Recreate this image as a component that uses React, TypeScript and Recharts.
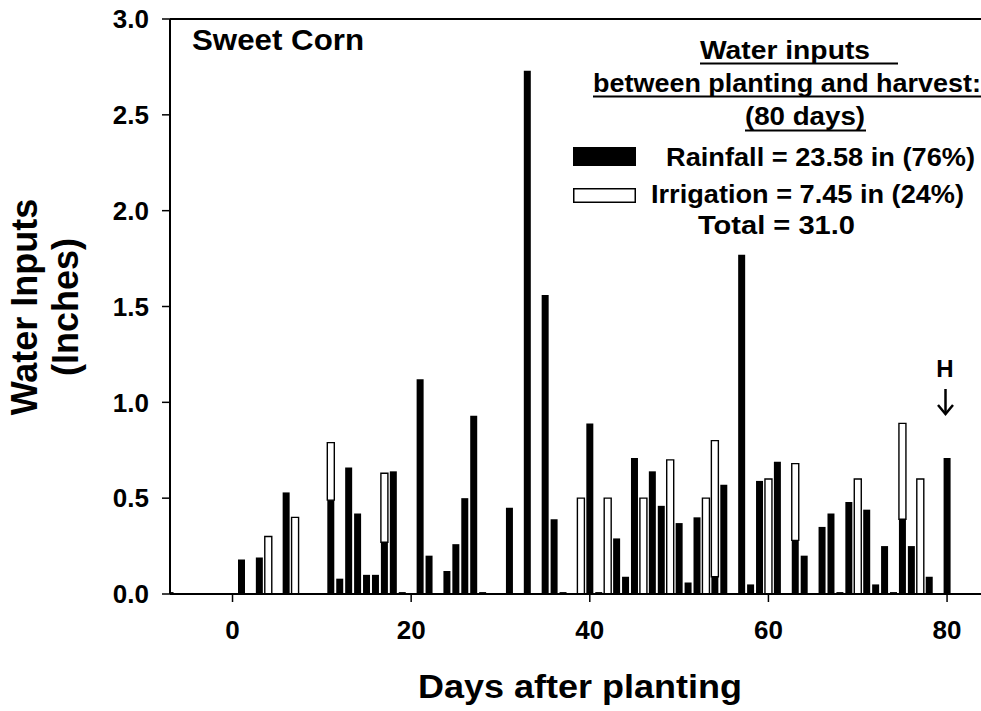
import { BarChart, Bar, XAxis, YAxis, ReferenceLine } from "recharts";

// days after planting that had any water input
const DAYS = [
  -7, 1, 3, 4, 6, 7, 11, 12, 13, 14, 15, 16, 17, 18, 19, 21, 22, 24, 25, 26, 27, 28,
  31, 33, 35, 36, 37, 39, 40, 41, 42, 43, 44, 45, 46, 47, 48, 49, 50, 51, 52, 53, 54,
  55, 57, 58, 59, 60, 61, 63, 64, 66, 67, 68, 69, 70, 71, 72, 73, 74, 75, 76, 77, 78, 80,
];
const RAINFALL = [
  0.01, 0.18, 0.19, 0, 0.53, 0, 0.49, 0.08, 0.66, 0.42, 0.1, 0.1, 0.27, 0.64, 0.01, 1.12, 0.2, 0.12, 0.26, 0.5, 0.93, 0.01,
  0.45, 2.73, 1.56, 0.39, 0.01, 0, 0.89, 0.01, 0, 0.29, 0.09, 0.71, 0, 0.64, 0.46, 0, 0.37, 0.06, 0.4, 0, 0.09,
  0.57, 1.77, 0.05, 0.59, 0, 0.69, 0.28, 0.2, 0.35, 0.42, 0.01, 0.48, 0, 0.44, 0.05, 0.25, 0.01, 0.39, 0.25, 0, 0.09, 0.71,
];
const IRRIGATION = [
  0, 0, 0, 0.3, 0, 0.4, 0.3, 0, 0, 0, 0, 0, 0.36, 0, 0, 0, 0, 0, 0, 0, 0, 0,
  0, 0, 0, 0, 0, 0.5, 0, 0, 0.5, 0, 0, 0, 0.5, 0, 0, 0.7, 0, 0, 0, 0.5, 0.71,
  0, 0, 0, 0, 0.6, 0, 0.4, 0, 0, 0, 0, 0, 0.6, 0, 0, 0, 0, 0.5, 0, 0.6, 0, 0,
];
const X_TICKS = [0, 20, 40, 60, 80];
const Y_TICKS = [0, 0.5, 1, 1.5, 2, 2.5, 3];

const data = DAYS.map((day, i) => ({ day, rain: RAINFALL[i], irrigation: IRRIGATION[i] }));

const FONT = '"Liberation Sans", Arial, Helvetica, sans-serif';
const tickStyle = { fill: "#000", fontSize: 26, fontWeight: 700, fontFamily: FONT };

export default function App() {
  return (
    <div style={{ position: "relative", width: 981, height: 711, background: "#fff", overflow: "hidden" }}>
      <style>{"body{margin:0;overflow:hidden}"}</style>
      <BarChart width={981} height={711} data={data} margin={{ top: 19, right: 0, bottom: 0, left: 0 }}>
        <XAxis
          type="number"
          dataKey="day"
          domain={[-7, 83.8]}
          ticks={X_TICKS}
          allowDataOverflow
          height={117}
          tickSize={8}
          tickMargin={19}
          tick={tickStyle}
          axisLine={{ stroke: "#000", strokeWidth: 2 }}
          tickLine={{ stroke: "#000", strokeWidth: 1.5 }}
        />
        <YAxis
          domain={[0, 3]}
          ticks={Y_TICKS}
          width={170}
          tickSize={8}
          tickMargin={13}
          tickFormatter={(v: number) => v.toFixed(1)}
          tick={tickStyle}
          axisLine={{ stroke: "#000", strokeWidth: 2 }}
          tickLine={{ stroke: "#000", strokeWidth: 1.5 }}
        />
        <ReferenceLine y={3} stroke="#000" strokeWidth={2} />
        <Bar dataKey="rain" stackId="w" fill="#000" barSize={7} isAnimationActive={false} />
        <Bar dataKey="irrigation" stackId="w" fill="#fff" stroke="#000" strokeWidth={1.4} barSize={7} isAnimationActive={false} />
      </BarChart>

      <svg
        width={981}
        height={711}
        style={{ position: "absolute", left: 0, top: 0, pointerEvents: "none" }}
        fontFamily={FONT}
        fontWeight={700}
      >
        <text x={37} y={307} fontSize={36} textAnchor="middle" transform="rotate(-90 37 307)">Water Inputs</text>
        <text x={78} y={307} fontSize={36} textAnchor="middle" transform="rotate(-90 78 307)">(Inches)</text>
        <text x={418} y={698} fontSize={34} textLength={324} lengthAdjust="spacingAndGlyphs">Days after planting</text>
        <text x={192} y={50} fontSize={30} textLength={172} lengthAdjust="spacingAndGlyphs">Sweet Corn</text>

        <text x={700} y={59} fontSize={25} textLength={170} lengthAdjust="spacingAndGlyphs">Water inputs</text>
        <line x1={700} x2={898} y1={63.5} y2={63.5} stroke="#000" strokeWidth={2} />
        <text x={593} y={92} fontSize={25} textLength={388} lengthAdjust="spacingAndGlyphs">between planting and harvest:</text>
        <line x1={593} x2={981} y1={96.5} y2={96.5} stroke="#000" strokeWidth={2} />
        <text x={745} y={125} fontSize={25} textLength={120} lengthAdjust="spacingAndGlyphs">(80 days)</text>
        <line x1={745} x2={866} y1={130.5} y2={130.5} stroke="#000" strokeWidth={2} />

        <rect x={573} y={147} width={63} height={19} fill="#000" />
        <text x={666} y={166} fontSize={25} textLength={309} lengthAdjust="spacingAndGlyphs">Rainfall = 23.58 in (76%)</text>
        <rect x={573.75} y={188.75} width={61.5} height={13.5} fill="#fff" stroke="#000" strokeWidth={1.5} />
        <text x={651} y={203} fontSize={25} textLength={313} lengthAdjust="spacingAndGlyphs">Irrigation = 7.45 in (24%)</text>
        <text x={698} y={234} fontSize={25} textLength={157} lengthAdjust="spacingAndGlyphs">Total = 31.0</text>

        <text x={945} y={377} fontSize={24} textAnchor="middle">H</text>
        <line x1={945.5} x2={945.5} y1={389} y2={414} stroke="#000" strokeWidth={2.5} />
        <polyline points="938,405 945.5,414 953,405" fill="none" stroke="#000" strokeWidth={2.5} />
      </svg>
    </div>
  );
}
